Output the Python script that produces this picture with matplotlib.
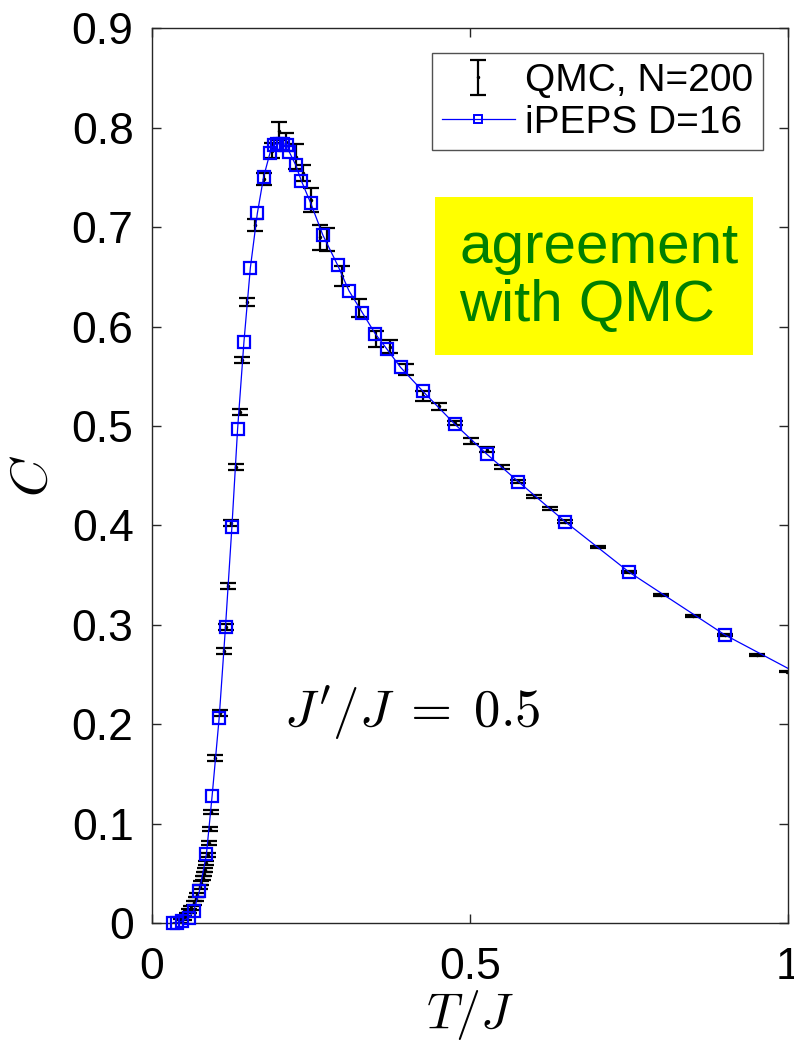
import numpy as np
import matplotlib
matplotlib.use("Agg")
import matplotlib.pyplot as plt
from matplotlib.lines import Line2D
from matplotlib.patches import Rectangle
from matplotlib.legend_handler import HandlerErrorbar

plt.rcParams['font.family'] = ['Liberation Sans', 'DejaVu Sans']
plt.rcParams['mathtext.fontset'] = 'cm'

# QMC specific heat, N=200 (T/J, C, error)
qmc_T = [0.046, 0.051, 0.055, 0.059, 0.062, 0.066, 0.069, 0.072, 0.076, 0.078,
         0.080, 0.082, 0.084, 0.086, 0.088, 0.090, 0.091, 0.093, 0.100, 0.107,
         0.113, 0.116, 0.120, 0.125, 0.132, 0.138, 0.142, 0.150, 0.163, 0.176,
         0.189, 0.200, 0.211, 0.226, 0.237, 0.251, 0.265, 0.276, 0.299, 0.325,
         0.352, 0.375, 0.400, 0.426, 0.451, 0.476, 0.501, 0.526, 0.550, 0.575,
         0.600, 0.626, 0.650, 0.701, 0.750, 0.800, 0.850, 0.900, 0.951, 0.998]
qmc_C = [0.002, 0.005, 0.008, 0.012, 0.015, 0.020, 0.024, 0.028, 0.036, 0.040,
         0.045, 0.049, 0.053, 0.060, 0.068, 0.080, 0.095, 0.112, 0.166, 0.211,
         0.274, 0.298, 0.339, 0.402, 0.459, 0.514, 0.566, 0.625, 0.702, 0.749,
         0.777, 0.797, 0.786, 0.771, 0.755, 0.727, 0.690, 0.688, 0.651, 0.619,
         0.588, 0.580, 0.557, 0.530, 0.520, 0.503, 0.485, 0.476, 0.459, 0.4445,
         0.429, 0.4175, 0.4035, 0.378, 0.353, 0.330, 0.3085, 0.290, 0.270, 0.253]
qmc_err = [0.002, 0.002, 0.002, 0.002, 0.002, 0.002, 0.002, 0.002, 0.002, 0.002,
           0.002, 0.002, 0.002, 0.002, 0.002, 0.002, 0.002, 0.002, 0.003, 0.003,
           0.003, 0.003, 0.003, 0.003, 0.003, 0.003, 0.003, 0.004, 0.006, 0.006,
           0.0075, 0.009, 0.009, 0.0125, 0.008, 0.012, 0.0125, 0.0115, 0.0105, 0.009,
           0.008, 0.0067, 0.0055, 0.005, 0.0035, 0.002, 0.003, 0.0025, 0.002, 0.0015,
           0.0015, 0.0015, 0.0015, 0.001, 0.001, 0.001, 0.001, 0.001, 0.001, 0.001]

# iPEPS D=16 specific heat
peps_T = [0.033, 0.040, 0.048, 0.058, 0.066, 0.075, 0.086, 0.095, 0.106, 0.116,
          0.126, 0.135, 0.145, 0.155, 0.166, 0.176, 0.186, 0.192, 0.197, 0.202,
          0.207, 0.213, 0.216, 0.226, 0.235, 0.250, 0.269, 0.292, 0.310, 0.331,
          0.351, 0.370, 0.391, 0.426, 0.476, 0.526, 0.576, 0.650, 0.750, 0.900, 1.100]
peps_C = [0.000, 0.000, 0.002, 0.005, 0.012, 0.032, 0.069, 0.128, 0.206, 0.298,
          0.398, 0.497, 0.585, 0.659, 0.714, 0.751, 0.775, 0.783, 0.784, 0.784,
          0.784, 0.783, 0.776, 0.763, 0.747, 0.724, 0.692, 0.662, 0.636, 0.614,
          0.593, 0.577, 0.559, 0.535, 0.502, 0.472, 0.444, 0.4035, 0.353, 0.290, 0.222]

x_ticks = [0, 0.5, 1]
x_ticklabels = ['0', '0.5', '1']
y_ticks = [0, 0.1, 0.2, 0.3, 0.4, 0.5, 0.6, 0.7, 0.8, 0.9]
y_ticklabels = ['0', '0.1', '0.2', '0.3', '0.4', '0.5', '0.6', '0.7', '0.8', '0.9']

axcol = '#262626'
blue = '#0000ff'

fig = plt.figure(figsize=(7.94, 10.43), dpi=100)
ax = fig.add_axes([0.191, 0.1151, 0.8018, 0.8576])

h_qmc = ax.errorbar(qmc_T, qmc_C, yerr=qmc_err, fmt='.', color='black', ms=3,
                    elinewidth=1.6, capsize=5.5, capthick=1.6, zorder=2)

pT = np.array(peps_T)
pC = np.array(peps_C)
ax.plot(pT, pC, '-', color=blue, lw=0.9, zorder=3)
inside = pT <= 1.0
ax.plot(pT[inside], pC[inside], 's', color=blue, mfc='none', ms=8, mew=1.6,
        clip_on=False, zorder=4)

ax.set_xlim(0, 1)
ax.set_ylim(0, 0.9)
ax.set_xticks(x_ticks)
ax.set_xticklabels(x_ticklabels)
ax.set_yticks(y_ticks)
ax.set_yticklabels(y_ticklabels)
ax.tick_params(direction='in', top=True, right=True, length=6.5, width=1,
               color=axcol, labelsize=32, labelcolor='black')
ax.tick_params(axis='y', pad=13)
ax.tick_params(axis='x', pad=17)
for s in ax.spines.values():
    s.set_color(axcol)
    s.set_linewidth(1)

ax.set_xlabel(r'$T/J$', fontsize=36, labelpad=0)
ax.set_ylabel(r'$C$', fontsize=38, labelpad=10)

ax.text(0.41, 0.211, r"$J'/J\;=\;0.5$", fontsize=38, ha='center', va='center')

# highlighted note
ax.add_patch(Rectangle((0.445, 0.635), 0.4995, 0.1766, transform=ax.transAxes,
                       facecolor='#ffff00', edgecolor='none', zorder=1))
ax.text(0.7027, 0.7222, 'agreement\nwith QMC', transform=ax.transAxes,
        fontsize=42, color='#007f00', ha='center', va='center',
        multialignment='left', linespacing=1.1, zorder=5)

h_peps = Line2D([], [], color=blue, lw=0.9, marker='s', mfc='none', ms=6,
                mew=1.4)
leg = ax.legend([h_qmc, h_peps], ['QMC, N=200', 'iPEPS D=16'],
                loc='upper right', bbox_to_anchor=(0.9603, 0.9726),
                fontsize=28, frameon=True, fancybox=False, borderpad=0.25,
                labelspacing=0.15, handlelength=1.9, handletextpad=0.25,
                borderaxespad=0,
                handler_map={type(h_qmc): HandlerErrorbar(xerr_size=0.45)})
leg.get_frame().set_edgecolor(axcol)
leg.get_frame().set_linewidth(1)

fig.savefig('out.png', dpi=100)
